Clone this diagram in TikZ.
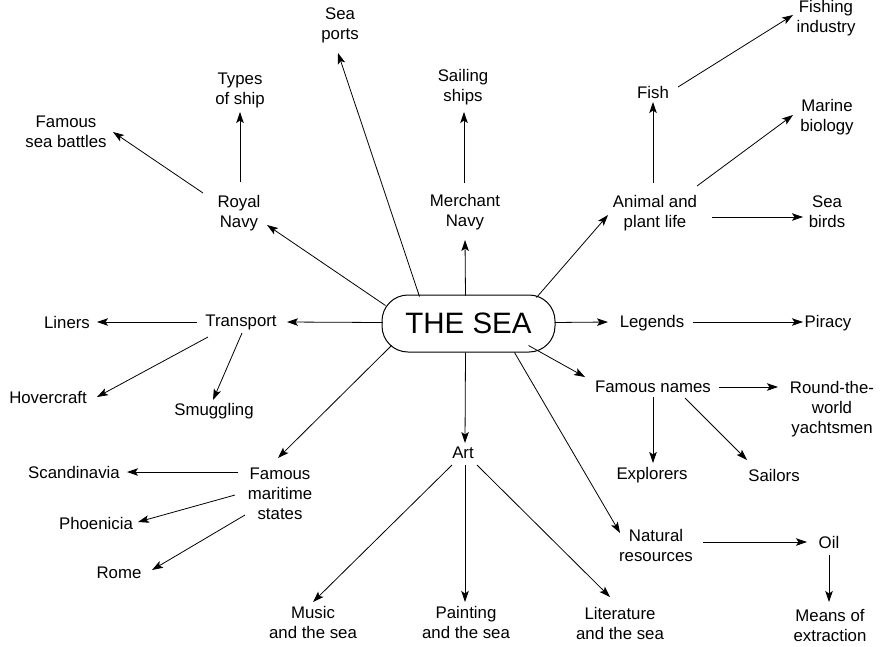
\documentclass[tikz,border=0pt]{standalone}
\usepackage{fontspec}
\setmainfont{Liberation Sans}
\usetikzlibrary{arrows.meta}
\begin{document}
\begin{tikzpicture}[x=1pt,y=-1pt,
  lbl/.style={font=\fontsize{16.8}{20}\selectfont, align=center, inner sep=0pt},
  hub/.style={draw, line width=1pt, rounded corners=26pt, minimum width=173pt, minimum height=57pt,
              font=\fontsize{29.5}{32}\selectfont, inner sep=0pt},
  arr/.style={line width=0.8pt, -{Stealth[length=11pt,width=7.5pt,inset=2.5pt]}}]
\useasboundingbox (0,0) rectangle (882,646);

\node[hub] (sea) at (468.5,323.5) {THE SEA};

\node[lbl] (sp)   at (340,25)  {Sea\\ports};
\node[lbl] (ts)   at (240,90)  {Types\\of ship};
\node[lbl] (fsb)  at (66,132)  {Famous\\sea battles};
\node[lbl] (rn)   at (239,213) {Royal\\Navy};
\node[lbl] (ss)   at (463,87)  {Sailing\\ships};
\node[lbl] (mn)   at (465,212) {Merchant\\Navy};
\node[lbl] (fish) at (653,92)  {Fish};
\node[lbl] (fi)   at (826,18)  {Fishing\\industry};
\node[lbl] (mb)   at (827,117) {Marine\\biology};
\node[lbl] (apl)  at (655,213) {Animal and\\plant life};
\node[lbl] (sb)   at (827,212) {Sea\\birds};
\node[lbl] (lin)  at (67,322)  {Liners};
\node[lbl] (tr)   at (241,322) {Transport};
\node[lbl] (hov)  at (48,397)  {Hovercraft};
\node[lbl] (smu)  at (214,411) {Smuggling};
\node[lbl] (leg)  at (652,323) {Legends};
\node[lbl] (pir)  at (828,323) {Piracy};
\node[lbl] (fn)   at (653,387) {Famous names};
\node[lbl] (rtw)  at (832,409) {Round-the-\\world\\yachtsmen};
\node[lbl] (exp)  at (652,475) {Explorers};
\node[lbl] (sai)  at (774,475) {Sailors};
\node[lbl] (nr)   at (656,545) {Natural\\resources};
\node[lbl] (oil)  at (829,542) {Oil};
\node[lbl] (me)   at (830,625) {Means of\\extraction};
\node[lbl] (fms)  at (280,494) {Famous\\maritime\\states};
\node[lbl] (sca)  at (74,472)  {Scandinavia};
\node[lbl] (pho)  at (96,523)  {Phoenicia};
\node[lbl] (rome) at (119,573) {Rome};
\node[lbl] (art)  at (463,453) {Art};
\node[lbl] (mus)  at (313,622) {Music\\and the sea};
\node[lbl] (pai)  at (466,622) {Painting\\and the sea};
\node[lbl] (lit)  at (620,623) {Literature\\and the sea};

% from the hub
\draw[arr] ([shift={(-49,-27)}]sea.center) -- ([shift={(-2,28)}]sp.center);
\draw[arr] ([shift={(-83,-18)}]sea.center) -- ([shift={(28,12)}]rn.center);
\draw[arr] ([shift={(-3,-28)}]sea.center) -- ([shift={(0,28)}]mn.center);
\draw[arr] ([shift={(68,-26)}]sea.center) -- ([shift={(-47,2)}]apl.center);
\draw[arr] ([shift={(-86,-1)}]sea.center) -- ([shift={(46,0)}]tr.center);
\draw[arr] ([shift={(86,-1)}]sea.center) -- ([shift={(-44,-1)}]leg.center);
\draw[arr] ([shift={(60,22)}]sea.center) -- ([shift={(-68,-10)}]fn.center);
\draw[arr] ([shift={(46,29)}]sea.center) -- ([shift={(-36,-12)}]nr.center);
\draw[arr] ([shift={(-3,29)}]sea.center) -- ([shift={(2,-10)}]art.center);
\draw[arr] ([shift={(-77,22)}]sea.center) -- ([shift={(-2,-36)}]fms.center);

% second level
\draw[arr] ([shift={(-36,-20)}]rn.center) -- ([shift={(47,0)}]fsb.center);
\draw[arr] ([shift={(1,-31)}]rn.center) -- ([shift={(0,22)}]ts.center);
\draw[arr] ([shift={(-1,-29)}]mn.center) -- ([shift={(1,25)}]ss.center);
\draw[arr] ([shift={(-2,-30)}]apl.center) -- ([shift={(0,10)}]fish.center);
\draw[arr] ([shift={(25,-5)}]fish.center) -- ([shift={(-33,-3)}]fi.center);
\draw[arr] ([shift={(42,-27)}]apl.center) -- ([shift={(-34,-2)}]mb.center);
\draw[arr] ([shift={(57,4)}]apl.center) -- ([shift={(-24,5)}]sb.center);
\draw[arr] ([shift={(-44,0)}]tr.center) -- ([shift={(30,0)}]lin.center);
\draw[arr] ([shift={(-33,15)}]tr.center) -- ([shift={(49,0)}]hov.center);
\draw[arr] ([shift={(1,11)}]tr.center) -- ([shift={(-1,-11)}]smu.center);
\draw[arr] ([shift={(41,-1)}]leg.center) -- ([shift={(-25,-1)}]pir.center);
\draw[arr] ([shift={(66,0)}]fn.center) -- ([shift={(-54,-22)}]rtw.center);
\draw[arr] ([shift={(0,10)}]fn.center) -- ([shift={(1,-12)}]exp.center);
\draw[arr] ([shift={(32,11)}]fn.center) -- ([shift={(-27,-15)}]sai.center);
\draw[arr] ([shift={(47,-3)}]nr.center) -- ([shift={(-22,0)}]oil.center);
\draw[arr] ([shift={(0,13)}]oil.center) -- ([shift={(-1,-23)}]me.center);
\draw[arr] ([shift={(-42,-22)}]fms.center) -- ([shift={(53,0)}]sca.center);
\draw[arr] ([shift={(-45,1)}]fms.center) -- ([shift={(42,-1)}]pho.center);
\draw[arr] ([shift={(-35,21)}]fms.center) -- ([shift={(33,-3)}]rome.center);
\draw[arr] ([shift={(-11,12)}]art.center) -- ([shift={(0,-20)}]mus.center);
\draw[arr] ([shift={(2,12)}]art.center) -- ([shift={(-1,-20)}]pai.center);
\draw[arr] ([shift={(14,12)}]art.center) -- ([shift={(-10,-26)}]lit.center);
\end{tikzpicture}
\end{document}
